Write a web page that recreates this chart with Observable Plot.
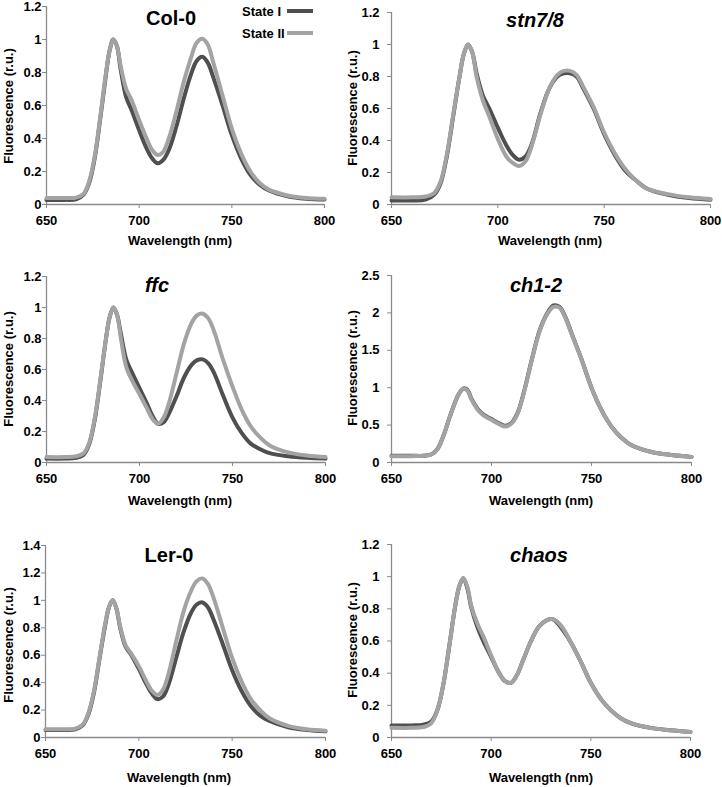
<!DOCTYPE html>
<html>
<head>
<meta charset="utf-8">
<script src="https://cdn.jsdelivr.net/npm/d3@7"></script>
<script src="https://cdn.jsdelivr.net/npm/@observablehq/plot@0.6"></script>
<style>
  html, body { margin: 0; padding: 0; background: #fff; }
  #fig { position: relative; width: 722px; height: 787px; overflow: hidden;
         font-family: "Liberation Sans", Arial, sans-serif; font-weight: bold; color: #000; }
  #fig svg text { font-weight: bold; font-family: "Liberation Sans", Arial, sans-serif; font-size: 13px; fill: #000; }
  .abs { position: absolute; white-space: nowrap; line-height: 1; }
  .ctr { transform: translate(-50%, -50%); }
  .rot { transform: translate(-50%, -50%) rotate(-90deg); }
  .ptitle { font-size: 20px; }
  .atitle { font-size: 13px; }
  .leg { font-size: 13px; }
  .legline { position: absolute; height: 4px; width: 26px; }
</style>
</head>
<body>
<div id="fig"></div>
<script>
// ---- data ----
const wavelengths = [650, 660, 666, 670, 673, 676, 679, 682, 684, 686, 688, 690, 693, 696, 700, 704, 707, 710, 713, 716, 720, 724, 728, 731, 734, 737, 740, 745, 750, 755, 760, 765, 770, 780, 790, 800];
const seriesNames = ["State I", "State II"];
const panelNames = ["Col-0", "stn7/8", "ffc", "ch1-2", "Ler-0", "chaos"];
const xTicks = [650, 700, 750, 800];
const yTicks12 = [0, 0.2, 0.4, 0.6, 0.8, 1, 1.2];
const yTicks14 = [0, 0.2, 0.4, 0.6, 0.8, 1, 1.2, 1.4];
const yTicks25 = [0, 0.5, 1, 1.5, 2, 2.5];

const col0_I  = [0.028, 0.028, 0.032, 0.06, 0.13, 0.28, 0.52, 0.78, 0.93, 1.0, 0.96, 0.82, 0.65, 0.57, 0.45, 0.34, 0.28, 0.25, 0.27, 0.33, 0.47, 0.64, 0.79, 0.87, 0.895, 0.86, 0.77, 0.6, 0.42, 0.28, 0.18, 0.12, 0.085, 0.05, 0.035, 0.03];
const col0_II = [0.04, 0.04, 0.042, 0.065, 0.14, 0.29, 0.53, 0.79, 0.93, 1.0, 0.96, 0.84, 0.70, 0.63, 0.51, 0.40, 0.33, 0.30, 0.32, 0.40, 0.56, 0.74, 0.89, 0.98, 1.005, 0.97, 0.86, 0.66, 0.46, 0.31, 0.2, 0.13, 0.09, 0.055, 0.04, 0.035];
const stn_I   = [0.025, 0.025, 0.03, 0.06, 0.13, 0.3, 0.55, 0.8, 0.94, 1.0, 0.95, 0.82, 0.68, 0.6, 0.48, 0.37, 0.31, 0.28, 0.3, 0.38, 0.57, 0.72, 0.8, 0.82, 0.82, 0.8, 0.73, 0.6, 0.44, 0.31, 0.21, 0.15, 0.1, 0.06, 0.04, 0.03];
const stn_II  = [0.045, 0.045, 0.05, 0.07, 0.14, 0.31, 0.56, 0.8, 0.94, 1.0, 0.95, 0.8, 0.65, 0.55, 0.41, 0.3, 0.26, 0.24, 0.27, 0.37, 0.56, 0.72, 0.81, 0.835, 0.835, 0.81, 0.74, 0.61, 0.45, 0.32, 0.22, 0.15, 0.1, 0.065, 0.045, 0.035];
const ffc_I   = [0.025, 0.025, 0.03, 0.05, 0.12, 0.28, 0.53, 0.8, 0.94, 1.0, 0.95, 0.83, 0.66, 0.58, 0.48, 0.38, 0.3, 0.25, 0.26, 0.32, 0.43, 0.55, 0.63, 0.66, 0.665, 0.64, 0.58, 0.43, 0.29, 0.19, 0.12, 0.085, 0.06, 0.04, 0.03, 0.025];
const ffc_II  = [0.035, 0.035, 0.04, 0.06, 0.13, 0.29, 0.54, 0.8, 0.94, 1.0, 0.95, 0.8, 0.61, 0.53, 0.44, 0.35, 0.28, 0.25, 0.29, 0.39, 0.58, 0.77, 0.9, 0.95, 0.96, 0.93, 0.85, 0.66, 0.49, 0.34, 0.23, 0.16, 0.11, 0.065, 0.045, 0.035];
const ch_I    = [0.09, 0.09, 0.09, 0.11, 0.18, 0.36, 0.6, 0.82, 0.93, 0.99, 0.97, 0.85, 0.72, 0.64, 0.58, 0.52, 0.49, 0.53, 0.66, 0.92, 1.36, 1.76, 2.0, 2.1, 2.08, 1.94, 1.73, 1.38, 1.0, 0.7, 0.48, 0.33, 0.23, 0.14, 0.1, 0.075];
const ch_II   = [0.085, 0.085, 0.09, 0.11, 0.18, 0.36, 0.6, 0.82, 0.93, 0.99, 0.96, 0.84, 0.71, 0.63, 0.57, 0.51, 0.48, 0.52, 0.65, 0.91, 1.35, 1.75, 1.99, 2.08, 2.07, 1.93, 1.72, 1.38, 1.0, 0.7, 0.48, 0.33, 0.23, 0.14, 0.1, 0.075];
const ler_I   = [0.055, 0.055, 0.06, 0.09, 0.17, 0.33, 0.58, 0.82, 0.95, 1.0, 0.94, 0.8, 0.66, 0.6, 0.5, 0.39, 0.32, 0.28, 0.3, 0.39, 0.58, 0.77, 0.91, 0.97, 0.985, 0.95, 0.86, 0.68, 0.49, 0.34, 0.23, 0.16, 0.12, 0.075, 0.055, 0.045];
const ler_II  = [0.06, 0.06, 0.065, 0.095, 0.18, 0.34, 0.59, 0.83, 0.95, 1.0, 0.94, 0.81, 0.67, 0.61, 0.52, 0.41, 0.34, 0.31, 0.35, 0.47, 0.7, 0.92, 1.07, 1.14, 1.16, 1.12, 1.02, 0.8, 0.58, 0.41, 0.28, 0.2, 0.14, 0.085, 0.06, 0.05];
const chaos_I = [0.075, 0.075, 0.08, 0.1, 0.17, 0.33, 0.57, 0.82, 0.94, 0.99, 0.93, 0.81, 0.69, 0.6, 0.5, 0.4, 0.35, 0.34, 0.39, 0.48, 0.6, 0.69, 0.73, 0.735, 0.7, 0.65, 0.59, 0.47, 0.34, 0.24, 0.17, 0.12, 0.09, 0.06, 0.045, 0.035];
const chaos_II= [0.06, 0.06, 0.065, 0.09, 0.17, 0.33, 0.57, 0.82, 0.94, 0.99, 0.94, 0.82, 0.71, 0.63, 0.51, 0.4, 0.35, 0.34, 0.39, 0.48, 0.6, 0.69, 0.73, 0.735, 0.71, 0.66, 0.59, 0.47, 0.34, 0.24, 0.17, 0.12, 0.09, 0.06, 0.045, 0.035];

// ---- styling / layout ----
const DARK = "#4f4f4f", LIGHT = "#a3a3a3", AXIS = "#8a8a8a";
const FONT = "'Liberation Sans', Arial, sans-serif";

const panels = [
  {name: panelNames[0], italic: false, I: col0_I,  II: col0_II,  yMax: 1.2, yTicks: yTicks12,
   left: 0,   top: 0,   w: 340, h: 250, mt: 6,  mb: 46, ml: 46, mr: 16, tp: 1,
   title: [171, 18], xt: [180, 240], yt: [8, 106]},
  {name: panelNames[1], italic: true,  I: stn_I,   II: stn_II,   yMax: 1.2, yTicks: yTicks12,
   left: 340, top: 0,   w: 382, h: 250, mt: 12, mb: 46, ml: 51, mr: 12, tp: 8,
   title: [535, 20], xt: [550, 240], yt: [352, 108]},
  {name: panelNames[2], italic: true,  I: ffc_I,   II: ffc_II,   yMax: 1.2, yTicks: yTicks12,
   left: 0,   top: 260, w: 340, h: 250, mt: 16, mb: 48, ml: 46, mr: 15, tp: 1,
   title: [157, 285], xt: [180, 500], yt: [8, 369]},
  {name: panelNames[3], italic: true,  I: ch_I,    II: ch_II,    yMax: 2.5, yTicks: yTicks25,
   left: 340, top: 260, w: 382, h: 250, mt: 15, mb: 48, ml: 51, mr: 31, tp: 8,
   title: [536, 285], xt: [541, 500], yt: [352, 368]},
  {name: panelNames[4], italic: false, I: ler_I,   II: ler_II,   yMax: 1.4, yTicks: yTicks14,
   left: 0,   top: 530, w: 340, h: 257, mt: 15, mb: 50, ml: 45, mr: 15, tp: 1,
   title: [169, 555], xt: [179, 777], yt: [8, 645]},
  {name: panelNames[5], italic: true,  I: chaos_I, II: chaos_II, yMax: 1.2, yTicks: yTicks12,
   left: 340, top: 530, w: 382, h: 257, mt: 14, mb: 50, ml: 51, mr: 32, tp: 8,
   title: [539, 555], xt: [541, 777], yt: [352, 640]}
];

const fig = document.getElementById("fig");

function addText(txt, cls, x, y, extra) {
  const d = document.createElement("div");
  d.className = "abs " + cls;
  d.textContent = txt;
  d.style.left = x + "px";
  d.style.top = y + "px";
  if (extra) Object.assign(d.style, extra);
  fig.appendChild(d);
  return d;
}

for (const p of panels) {
  const rowsI = wavelengths.map((w, i) => ({w, v: p.I[i], s: seriesNames[0]}));
  const rowsII = wavelengths.map((w, i) => ({w, v: p.II[i], s: seriesNames[1]}));
  const chart = Plot.plot({
    width: p.w, height: p.h,
    marginTop: p.mt, marginBottom: p.mb, marginLeft: p.ml, marginRight: p.mr,
    style: {fontFamily: FONT, fontSize: "13px", fontWeight: "bold", color: "#000", background: "transparent", overflow: "visible"},
    x: {domain: [650, 800]},
    y: {domain: [0, p.yMax]},
    marks: [
      Plot.axisX(xTicks, {tickSize: 4, tickPadding: 7, stroke: AXIS, label: null, tickFormat: d => String(d)}),
      Plot.axisY(p.yTicks, {tickSize: 4, tickPadding: p.tp, stroke: AXIS, label: null, tickFormat: d => String(d)}),
      Plot.ruleX([650], {stroke: AXIS, strokeWidth: 1.3}),
      Plot.ruleY([0], {stroke: AXIS, strokeWidth: 1.3}),
      Plot.line(rowsI, {x: "w", y: "v", stroke: DARK, strokeWidth: 4, curve: "catmull-rom", strokeLinejoin: "round"}),
      Plot.line(rowsII, {x: "w", y: "v", stroke: LIGHT, strokeWidth: 4, curve: "catmull-rom", strokeLinejoin: "round"})
    ]
  });
  const holder = document.createElement("div");
  holder.style.position = "absolute";
  holder.style.left = p.left + "px";
  holder.style.top = p.top + "px";
  holder.appendChild(chart);
  fig.appendChild(holder);

  addText(p.name, "ptitle ctr", p.title[0], p.title[1], p.italic ? {fontStyle: "italic"} : null);
  addText("Wavelength (nm)", "atitle ctr", p.xt[0], p.xt[1]);
  addText("Fluorescence (r.u.)", "atitle rot", p.yt[0], p.yt[1]);
}

// legend (in the Col-0 panel)
const legendColors = [DARK, LIGHT];
seriesNames.forEach((s, i) => {
  const y = 11 + i * 22;
  addText(s, "leg", 242, y, {transform: "translateY(-50%)"});
  const l = document.createElement("div");
  l.className = "legline";
  l.style.left = "287px";
  l.style.top = (y - 2) + "px";
  l.style.background = legendColors[i];
  fig.appendChild(l);
});
</script>
</body>
</html>
